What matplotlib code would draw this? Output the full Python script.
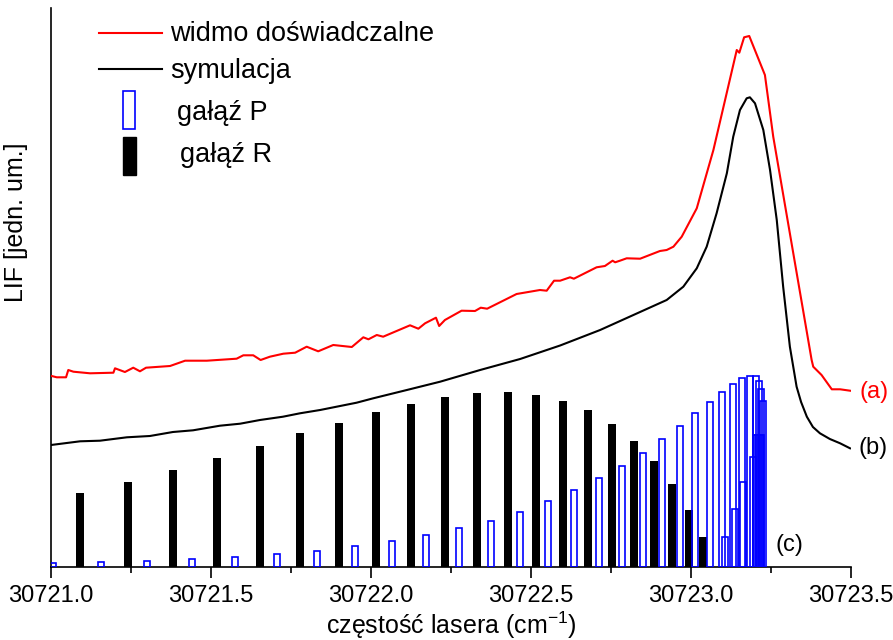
import matplotlib.pyplot as plt
import numpy as np

plt.rcParams['font.family'] = ['Liberation Sans', 'DejaVu Sans']

# widmo doświadczalne (a)
exp_x = [30721.002, 30721.018, 30721.047, 30721.054, 30721.070, 30721.122, 30721.195,
         30721.200, 30721.231, 30721.257, 30721.278, 30721.297, 30721.372, 30721.419,
         30721.487, 30721.580, 30721.601, 30721.632, 30721.655, 30721.684, 30721.726,
         30721.763, 30721.799, 30721.835, 30721.882, 30721.940, 30721.966, 30721.976,
         30721.992, 30722.018, 30722.038, 30722.122, 30722.148, 30722.169, 30722.203,
         30722.213, 30722.231, 30722.283, 30722.325, 30722.343, 30722.363, 30722.455,
         30722.528, 30722.549, 30722.572, 30722.591, 30722.622, 30722.634, 30722.705,
         30722.731, 30722.755, 30722.763, 30722.778, 30722.799, 30722.841, 30722.903,
         30722.924, 30722.945, 30722.971, 30723.018, 30723.070, 30723.143, 30723.151,
         30723.166, 30723.182, 30723.231, 30723.257, 30723.377, 30723.382, 30723.408,
         30723.440, 30723.466, 30723.497]
exp_y = [191, 189.7, 189.7, 197, 195.3, 193.7, 194.3,
         198.7, 195, 199.3, 195.7, 199.3, 201, 206.3,
         206.3, 208.3, 211.7, 211.7, 207, 210.3, 213.3,
         214.3, 220.3, 215.7, 222, 220, 227, 229.7,
         227.7, 232, 230.3, 241.7, 238.3, 243.7, 249.3,
         241, 247, 256.3, 256, 259.3, 258.3, 273,
         277, 276.3, 286.3, 286.3, 289.7, 288.3, 299.7,
         301, 306.3, 304.7, 306.3, 308.7, 308.3, 316,
         317, 320.3, 330.3, 358.7, 417, 517, 514.3,
         529.7, 531, 492, 430.3, 207, 200.3, 192,
         177.7, 177.7, 176.3]

# symulacja (b)
sim_x = [30721.000, 30721.091, 30721.153, 30721.237, 30721.309, 30721.381, 30721.444,
         30721.528, 30721.591, 30721.653, 30721.725, 30721.778, 30721.841, 30721.955,
         30722.007, 30722.112, 30722.216, 30722.341, 30722.466, 30722.591, 30722.716,
         30722.820, 30722.924, 30722.976, 30723.018, 30723.049, 30723.080, 30723.112,
         30723.132, 30723.153, 30723.174, 30723.184, 30723.200, 30723.226, 30723.247,
         30723.268, 30723.288, 30723.309, 30723.330, 30723.344, 30723.362, 30723.381,
         30723.403, 30723.434, 30723.466, 30723.497]
sim_y = [122, 125.7, 126.3, 129.7, 131, 135, 136.7,
         141.3, 143.3, 147, 150.3, 153.7, 157, 164.3,
         168.7, 177, 185.3, 197, 208, 221.5, 237,
         252, 267, 280.3, 298.7, 320.3, 353.7, 393.7,
         430.3, 457, 468.7, 469.7, 463.7, 437, 397,
         347, 280.3, 220.3, 180.3, 165, 150.3, 140,
         133.7, 128, 123.7, 118.7]

# gałąź R (c)
r_pos = [30721.091, 30721.240, 30721.381, 30721.519, 30721.652, 30721.778, 30721.900,
         30722.016, 30722.126, 30722.232, 30722.331, 30722.427, 30722.517, 30722.600,
         30722.679, 30722.753, 30722.822, 30722.883, 30722.941, 30722.993, 30723.037]
r_int = [74, 85, 97, 109, 121.3, 133.7, 144.3,
         154.7, 163.3, 169.7, 173.7, 174.7, 172, 166.3,
         156.7, 143.5, 126.3, 106, 83, 56.7, 29.7]

# gałąź P (c)
p_pos = [30721.006, 30721.155, 30721.299, 30721.442, 30721.576, 30721.706, 30721.830,
         30721.951, 30722.065, 30722.173, 30722.275, 30722.374, 30722.466, 30722.553,
         30722.635, 30722.713, 30722.784, 30722.850, 30722.909, 30722.965, 30723.013,
         30723.059, 30723.097, 30723.131, 30723.158, 30723.183, 30723.203, 30723.213,
         30723.220, 30723.226, 30723.219, 30723.214, 30723.208, 30723.202, 30723.195,
         30723.163, 30723.137, 30723.107]
p_int = [4, 4.7, 6, 7.7, 10.3, 13, 16.3,
         21, 26, 32, 38.7, 46.3, 55.3, 65.7,
         77, 88.7, 101.3, 114.3, 127.7, 141, 153.7,
         164.7, 175, 183, 188.7, 191.3, 191, 186,
         178, 166.3, 132, 132, 132, 132, 110,
         84.7, 57.7, 29.7]

fig = plt.figure(figsize=(8.93, 6.4), dpi=100)
ax = fig.add_axes([51 / 893, 1 - 567 / 640, 800 / 893, 559 / 640])

ax.bar(r_pos, r_int, width=0.025, color='black', zorder=2)
ax.bar(p_pos, p_int, width=0.019, fill=False, edgecolor='#0000ff', linewidth=1.2, zorder=3)
ax.plot(sim_x, sim_y, color='black', linewidth=1.5, zorder=4)
ax.plot(exp_x, exp_y, color='#ff0000', linewidth=1.5, zorder=4)

ax.text(30723.528, 175, '(a)', color='#ff0000', fontsize=17, va='center', ha='left', clip_on=False)
ax.text(30723.522, 119, '(b)', color='black', fontsize=17, va='center', ha='left', clip_on=False)
ax.text(30723.263, 22, '(c)', color='black', fontsize=17, va='center', ha='left', clip_on=False)

# legenda rysowana ręcznie
tr = ax.transAxes
ax.plot([0.060, 0.139], [0.956, 0.956], color='#ff0000', lw=1.5, transform=tr, clip_on=False)
ax.text(0.149, 0.953, 'widmo doświadczalne', fontsize=19.5, va='center', transform=tr)
ax.plot([0.060, 0.139], [0.890, 0.890], color='black', lw=1.5, transform=tr, clip_on=False)
ax.text(0.149, 0.887, 'symulacja', fontsize=19.5, va='center', transform=tr)
ax.add_patch(plt.Rectangle((0.0905, 0.7835), 0.015, 0.068, fill=False,
                           edgecolor='#0000ff', lw=1.2, transform=tr, clip_on=False))
ax.text(0.157, 0.812, 'gałąź P', fontsize=19.5, va='center', transform=tr)
ax.add_patch(plt.Rectangle((0.0896, 0.7013), 0.0167, 0.0685, color='black',
                           transform=tr, clip_on=False))
ax.text(0.161, 0.737, 'gałąź R', fontsize=19.5, va='center', transform=tr)

ax.set_xlim(30721.0, 30723.5)
ax.set_ylim(0, 559)
ax.set_xticks(np.arange(30721.0, 30723.51, 0.5))
ax.set_xticks(np.arange(30721.25, 30723.5, 0.5), minor=True)
ax.xaxis.set_major_formatter(plt.FormatStrFormatter('%.1f'))
ax.set_yticks([])
ax.tick_params(axis='x', which='major', direction='out', length=8, width=1.2, labelsize=17, pad=5)
ax.tick_params(axis='x', which='minor', direction='out', length=4.5, width=1.2)
for side in ['top', 'right']:
    ax.spines[side].set_visible(False)
for side in ['left', 'bottom']:
    ax.spines[side].set_linewidth(1.2)

ax.set_xlabel('częstość lasera (cm$^{\\mathregular{-1}}$)', fontsize=18, labelpad=2)
ax.set_ylabel('LIF [jedn. um.]', fontsize=18)
ax.yaxis.set_label_coords(-0.029, 0.617)

plt.savefig('out.png', dpi=100)
